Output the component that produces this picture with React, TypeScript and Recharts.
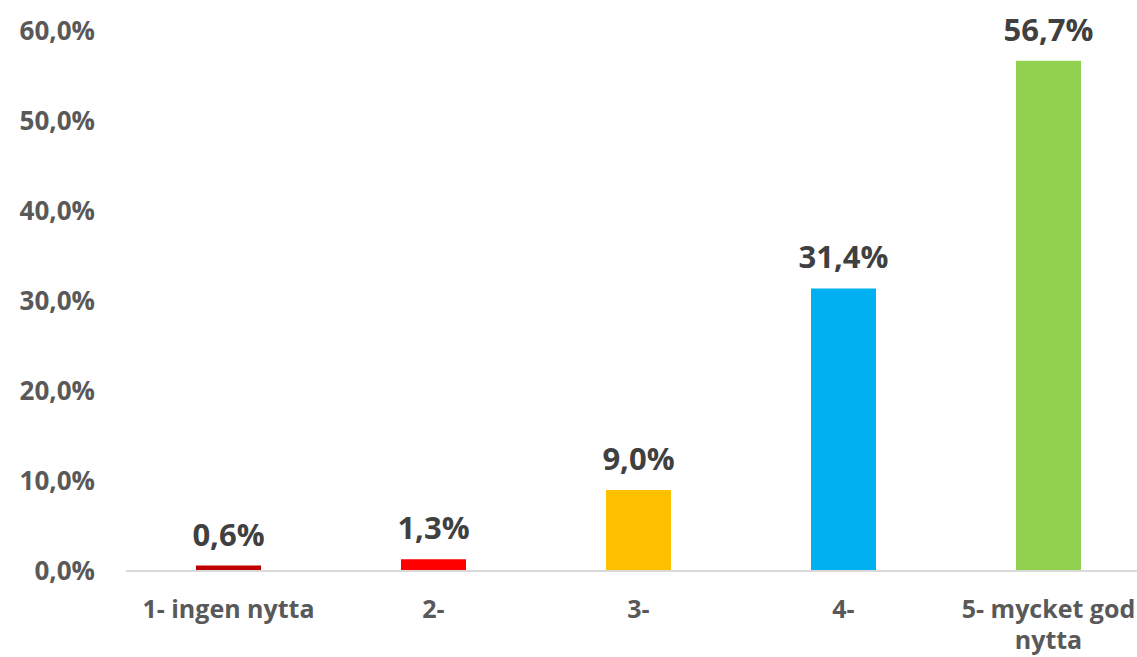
import React from "react";
import { BarChart, Bar, XAxis, YAxis, Cell, LabelList } from "recharts";

const categories = ["1- ingen nytta", "2-", "3-", "4-", "5- mycket god nytta"];
const shares = [0.6, 1.3, 9.0, 31.4, 56.7];
const yTicks = [0, 10, 20, 30, 40, 50, 60];

const barColors = ["#C00000", "#FF0000", "#FFC000", "#00B0F0", "#92D050"];

const data = categories.map((name, i) => ({ name, value: shares[i] }));

const pct = (v: number) => `${Number(v).toFixed(1).replace(".", ",")}%`;

const FONT = "'Open Sans', sans-serif";
const X_FONT_SIZE = 25;
const X_WRAP = 200;

let ctx: CanvasRenderingContext2D | null = null;
function measure(s: string) {
  if (!ctx) ctx = document.createElement("canvas").getContext("2d");
  if (!ctx) return s.length * X_FONT_SIZE * 0.55;
  ctx.font = `700 ${X_FONT_SIZE}px ${FONT}`;
  return ctx.measureText(s).width;
}

// greedy word wrap, like the category labels in the original
function wrap(label: string) {
  const lines: string[] = [];
  let cur = "";
  for (const w of label.split(" ")) {
    const next = cur ? `${cur} ${w}` : w;
    if (cur && measure(next) > X_WRAP) {
      lines.push(cur);
      cur = w;
    } else cur = next;
  }
  if (cur) lines.push(cur);
  return lines;
}

function XTick({ x, y, payload }: any) {
  const lines = wrap(String(payload.value));
  return (
    <text
      x={x}
      y={y}
      textAnchor="middle"
      fill="#595959"
      fontSize={X_FONT_SIZE}
      fontWeight={700}
      fontFamily={FONT}
    >
      {lines.map((l, i) => (
        <tspan key={i} x={x} dy={i === 0 ? "0.71em" : 31}>
          {l}
        </tspan>
      ))}
    </text>
  );
}

export default function App() {
  return (
    <div style={{ width: 1151, height: 657, fontFamily: FONT }}>
      <style>{`body{margin:0;overflow:hidden;background:#fff}`}</style>
      <BarChart
        width={1151}
        height={657}
        data={data}
        margin={{ top: 31, right: 0, bottom: 0, left: 0 }}
      >
        <XAxis
          dataKey="name"
          height={86}
          tickLine={false}
          axisLine={{ stroke: "#D9D9D9", strokeWidth: 2 }}
          tickMargin={23}
          tick={<XTick />}
          interval={0}
        />
        <YAxis
          width={126}
          domain={[0, 60]}
          ticks={yTicks}
          tickFormatter={pct}
          axisLine={false}
          tickLine={false}
          tickMargin={25}
          tick={{ fill: "#595959", fontSize: 26, fontWeight: 700, fontFamily: FONT }}
        />
        <Bar dataKey="value" barSize={65} isAnimationActive={false}>
          {data.map((_, i) => (
            <Cell key={`c-${i}`} fill={barColors[i]} />
          ))}
          <LabelList
            dataKey="value"
            position="top"
            offset={20}
            formatter={(v: any) => pct(v)}
            fill="#404040"
            fontSize={31}
            fontWeight={700}
            fontFamily={FONT}
          />
        </Bar>
      </BarChart>
    </div>
  );
}
